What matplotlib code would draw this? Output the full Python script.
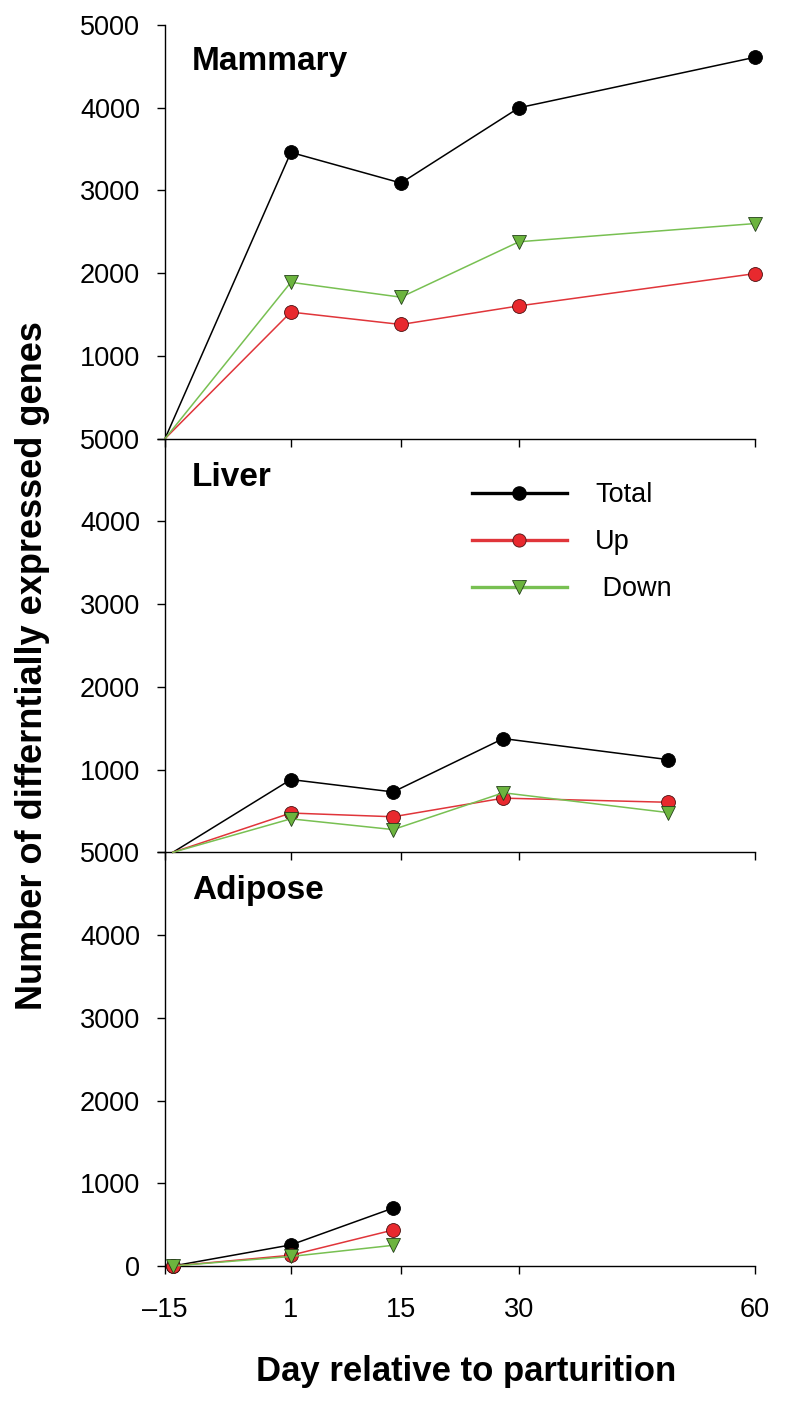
import matplotlib
matplotlib.use('Agg')
import matplotlib.pyplot as plt
from matplotlib.lines import Line2D

plt.rcParams['font.family'] = ['Liberation Sans', 'DejaVu Sans']

# days relative to parturition
days_mammary = [-15, 1, 15, 30, 60]
mammary_total = [0, 3460, 3090, 4000, 4610]
mammary_up = [0, 1530, 1380, 1605, 1995]
mammary_down = [0, 1890, 1710, 2380, 2600]

days_liver = [-14, 1, 14, 28, 49]
liver_total = [0, 880, 730, 1375, 1120]
liver_up = [0, 475, 430, 655, 605]
liver_down = [0, 405, 275, 720, 480]

days_adipose = [-14, 1, 14]
adipose_total = [0, 255, 700]
adipose_up = [0, 130, 435]
adipose_down = [0, 115, 250]

panels = ['Mammary', 'Liver', 'Adipose']
xticks = [-15, 1, 15, 30, 60]
xticklabels = ['\u201315', '1', '15', '30', '60']
yticks = [0, 1000, 2000, 3000, 4000, 5000]

red_line = '#e0353a'
red_fill = '#e8292e'
green_line = '#78c052'
green_fill = '#6cb43e'

data = [
    (days_mammary, mammary_total, mammary_up, mammary_down),
    (days_liver, liver_total, liver_up, liver_down),
    (days_adipose, adipose_total, adipose_up, adipose_down),
]

W, H = 788, 1408
fig = plt.figure(figsize=(W / 100, H / 100), dpi=100)

left = 165 / W
width = (755 - 165) / W
top_px = 25
bot_px = 1266
ph = (bot_px - top_px) / 3

axes = []
for i in range(3):
    y0 = 1 - (top_px + ph * (i + 1)) / H
    ax = fig.add_axes([left, y0, width, ph / H])
    axes.append(ax)

for i, (ax, (d, tot, up, down)) in enumerate(zip(axes, data)):
    # the starting point only gets a marker in the adipose panel
    me = None if i == 2 else slice(1, None)
    ax.plot(d, tot, color='black', lw=1.1, marker='o', ms=10, markevery=me,
            mfc='black', mec='black', mew=0.6, clip_on=False, zorder=3)
    ax.plot(d, up, color=red_line, lw=1.1, marker='o', ms=10, markevery=me,
            mfc=red_fill, mec='#4a1010', mew=0.6, clip_on=False, zorder=4)
    ax.plot(d, down, color=green_line, lw=1.1, marker='v', ms=10, markevery=me,
            mfc=green_fill, mec='#24401a', mew=0.6, clip_on=False, zorder=5)

    ax.set_xlim(-15, 60)
    ax.set_ylim(0, 5000)
    ax.spines['top'].set_visible(False)
    ax.spines['right'].set_visible(False)
    ax.spines['left'].set_linewidth(1.0)
    ax.spines['bottom'].set_linewidth(1.0)
    ax.set_xticks(xticks)
    ax.set_yticks(yticks)
    labels = [str(v) for v in yticks]
    if i < 2:
        labels[0] = ''
        ax.set_xticklabels([])
    else:
        ax.set_xticklabels(xticklabels)
    ax.set_yticklabels(labels)
    ax.tick_params(axis='y', direction='out', length=6, width=1.0,
                   labelsize=19.5, pad=12)
    ax.tick_params(axis='x', direction='out', length=6, width=1.0,
                   labelsize=19.5, pad=16)
    ax.patch.set_alpha(0)
    ax.text(0.046, 0.892 if i == 0 else 0.886, panels[i], transform=ax.transAxes,
            fontsize=24, fontweight='bold', va='baseline', ha='left')

handles = [
    Line2D([], [], color='black', lw=2.4, marker='o', ms=9.5,
           mfc='black', mec='black'),
    Line2D([], [], color=red_line, lw=2.4, marker='o', ms=9.5,
           mfc=red_fill, mec='#4a1010', mew=0.6),
    Line2D([], [], color=green_line, lw=2.4, marker='v', ms=9.5,
           mfc=green_fill, mec='#24401a', mew=0.6),
]
axes[1].legend(handles, ['Total', 'Up', ' Down'], loc='upper left',
               bbox_to_anchor=(0.52, 0.895), frameon=False, fontsize=19.5,
               handlelength=3.5, handletextpad=1.05, labelspacing=0.78,
               borderpad=0, borderaxespad=0)

fig.text(0.041, 0.527, 'Number of differntially expressed genes', rotation=90,
         fontsize=26, fontweight='bold', ha='center', va='center')
fig.text(466 / W, 1 - 1372 / H, 'Day relative to parturition',
         fontsize=25, fontweight='bold', ha='center', va='center')

fig.savefig('out.png', dpi=100)
